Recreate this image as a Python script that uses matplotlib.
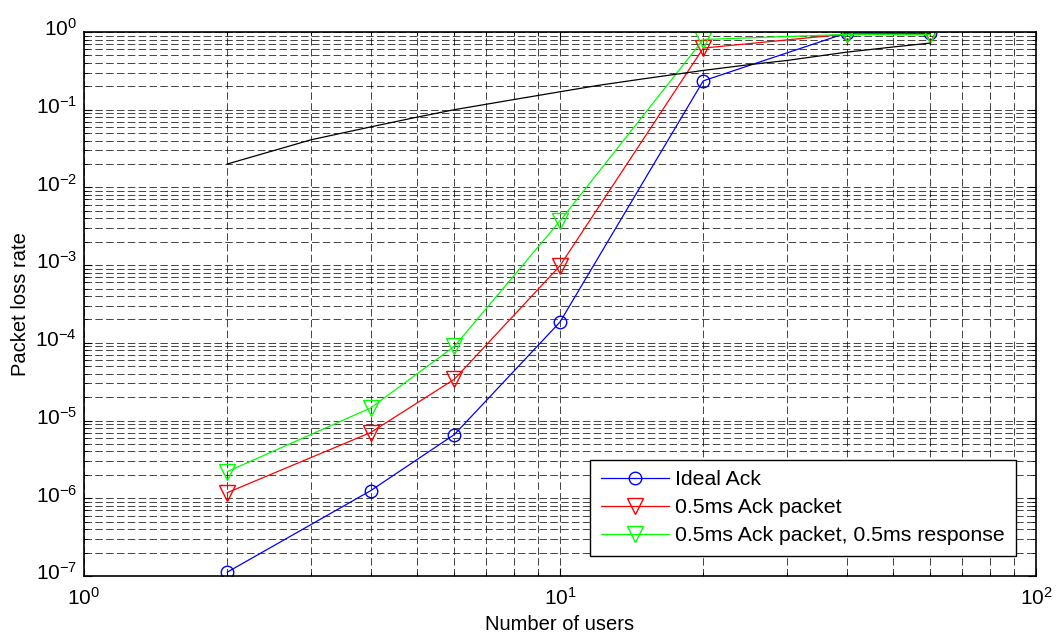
import matplotlib
matplotlib.use('Agg')
import matplotlib.pyplot as plt
from matplotlib.ticker import LogLocator, NullFormatter
from matplotlib.transforms import ScaledTranslation

plt.rcParams['font.family'] = ['Liberation Sans', 'DejaVu Sans']
plt.rcParams['mathtext.default'] = 'regular'
plt.rcParams['font.size'] = 13

# number of users simulated
users = [2, 4, 6, 10, 20, 40, 60]
ideal_ack = [1.12e-7, 1.25e-6, 6.6e-6, 1.85e-4, 0.235, 0.97, 0.96]
ack_packet = [1.18e-6, 7.0e-6, 3.4e-5, 9.8e-4, 0.62, 0.94, 0.94]
ack_response = [2.2e-6, 1.45e-5, 9.0e-5, 3.7e-3, 0.80, 0.93, 0.92]

# black reference curve (no markers)
ref_users = [2, 3, 4, 5, 6, 8, 10, 12, 15, 20, 25, 30, 40, 50, 60]
ref_loss = [0.020, 0.041, 0.060, 0.080, 0.100, 0.135, 0.170, 0.205, 0.250,
            0.320, 0.380, 0.430, 0.550, 0.640, 0.720]

fig = plt.figure(figsize=(10.56, 6.37), dpi=100)
ax = fig.add_axes([0.0795, 0.0958, 0.9015, 0.854])

ax.plot(users, ideal_ack, color='#0000ff', lw=0.9, marker='o', ms=9,
        mfc='none', mec='#0000ff', label='Ideal Ack')
ax.plot(users, ack_packet, color='#ff0000', lw=0.9, marker='v', ms=11,
        mfc='none', mec='#ff0000', label='0.5ms Ack packet')
ax.plot(users, ack_response, color='#00ff00', lw=0.9, marker='v', ms=11,
        mfc='none', mec='#00ff00', label='0.5ms Ack packet, 0.5ms response')
ax.plot(ref_users, ref_loss, color='black', lw=0.9)

ax.set_xscale('log')
ax.set_yscale('log')
ax.set_xlim(1, 100)
ax.set_ylim(1e-7, 1)

ax.xaxis.set_major_locator(LogLocator(base=10, numticks=10))
ax.xaxis.set_minor_locator(LogLocator(base=10, subs=range(2, 10), numticks=20))
ax.yaxis.set_major_locator(LogLocator(base=10, numticks=10))
ax.yaxis.set_minor_locator(LogLocator(base=10, subs=range(2, 10), numticks=20))
ax.xaxis.set_minor_formatter(NullFormatter())
ax.yaxis.set_minor_formatter(NullFormatter())

ax.grid(True, which='both', color='black', linestyle=(0, (9, 4)), lw=0.6, alpha=0.85)
ax.tick_params(which='both', direction='in', top=True, right=True, labelsize=15)
ax.tick_params(which='major', length=6)
ax.tick_params(which='minor', length=3)
ax.tick_params(axis='x', which='major', pad=8)
ax.tick_params(axis='y', which='major', pad=5)
for s in ax.spines.values():
    s.set_linewidth(1.2)

ax.set_xlabel('Number of users', fontsize=14.5, labelpad=4)
ax.set_ylabel('Packet loss rate', fontsize=14.5, labelpad=4)

leg = ax.legend(loc='lower right', fancybox=False, framealpha=1, edgecolor='black',
                handlelength=3.2, handletextpad=0.3, fontsize=15.3,
                borderaxespad=0.95, labelspacing=0.42, borderpad=0.5)
leg.get_frame().set_linewidth(1.0)

# MATLAB puts the "10" on the tick, exponent above it
fig.canvas.draw()
for lbl in ax.get_yticklabels():
    lbl.set_transform(lbl.get_transform() + ScaledTranslation(0, 3.5 / 72, fig.dpi_scale_trans))

fig.savefig('out.png', dpi=100)
